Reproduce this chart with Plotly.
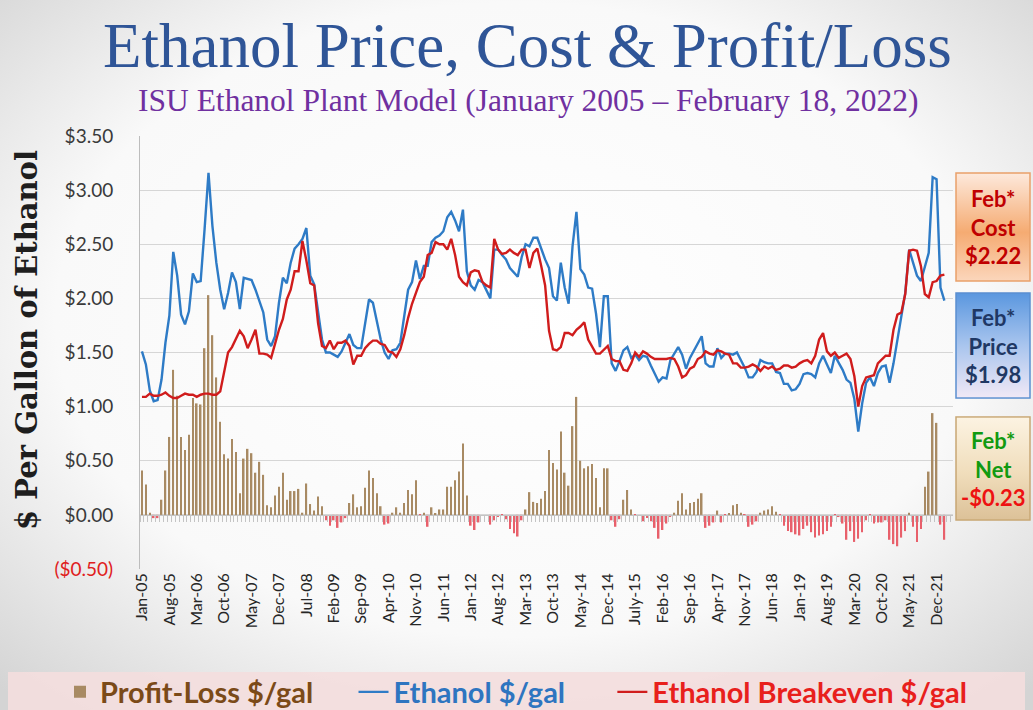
import base64
import plotly.graph_objects as go

# ---------------- data (monthly, Jan-2005 .. Feb-2022) ----------------
month_names = ["Jan", "Feb", "Mar", "Apr", "May", "Jun", "Jul", "Aug", "Sep", "Oct", "Nov", "Dec"]
months = [f"{m}-{y % 100:02d}" for y in range(2005, 2023) for m in month_names][:206]

ethanol_price = [
    1.51, 1.39, 1.15, 1.05, 1.06, 1.25, 1.59, 1.84, 2.43, 2.21, 1.85, 1.76,  # 2005
    1.88, 2.23, 2.15, 2.16, 2.64, 3.16, 2.67, 2.33, 2.08, 1.90, 2.05, 2.24,  # 2006
    2.15, 1.90, 2.19, 2.18, 2.17, 2.08, 1.97, 1.87, 1.62, 1.56, 1.65, 1.96,  # 2007
    2.19, 2.14, 2.33, 2.46, 2.50, 2.55, 2.65, 2.21, 2.13, 1.88, 1.62, 1.50,  # 2008
    1.50, 1.48, 1.46, 1.51, 1.59, 1.67, 1.57, 1.54, 1.54, 1.77, 1.99, 1.96,  # 2009
    1.79, 1.62, 1.50, 1.44, 1.52, 1.53, 1.59, 1.84, 2.08, 2.15, 2.35, 2.18,  # 2010
    2.30, 2.30, 2.52, 2.56, 2.58, 2.62, 2.75, 2.80, 2.72, 2.62, 2.82, 2.25,  # 2011
    2.12, 2.08, 2.17, 2.15, 2.08, 2.00, 2.45, 2.45, 2.40, 2.36, 2.28, 2.24,  # 2012
    2.20, 2.38, 2.50, 2.48, 2.56, 2.56, 2.45, 2.36, 2.28, 2.02, 1.98, 2.33,  # 2013
    2.10, 1.95, 2.48, 2.80, 2.27, 2.22, 2.10, 2.09, 1.86, 1.55, 2.02, 2.02,  # 2014
    1.40, 1.33, 1.42, 1.52, 1.55, 1.45, 1.48, 1.43, 1.47, 1.46, 1.38, 1.30,  # 2015
    1.23, 1.27, 1.26, 1.43, 1.49, 1.55, 1.48, 1.35, 1.45, 1.52, 1.58, 1.65,  # 2016
    1.40, 1.37, 1.37, 1.54, 1.45, 1.49, 1.49, 1.48, 1.50, 1.43, 1.36, 1.27,  # 2017
    1.27, 1.32, 1.43, 1.41, 1.40, 1.40, 1.32, 1.31, 1.21, 1.21, 1.15, 1.16,  # 2018
    1.21, 1.30, 1.31, 1.30, 1.27, 1.40, 1.47, 1.39, 1.31, 1.47, 1.40, 1.34,  # 2019
    1.25, 1.22, 1.07, 0.77, 1.03, 1.22, 1.27, 1.19, 1.31, 1.37, 1.38, 1.22,  # 2020
    1.40, 1.62, 1.84, 2.05, 2.45, 2.33, 2.21, 2.16, 2.28, 2.42, 3.12, 3.10,  # 2021
    2.10, 1.98,                                                              # 2022
]

breakeven_cost = [
    1.09, 1.09, 1.12, 1.10, 1.10, 1.11, 1.13, 1.10, 1.08, 1.08, 1.10, 1.12,  # 2005
    1.11, 1.11, 1.09, 1.11, 1.12, 1.12, 1.11, 1.11, 1.14, 1.33, 1.50, 1.55,  # 2006
    1.62, 1.70, 1.65, 1.54, 1.62, 1.71, 1.49, 1.49, 1.48, 1.45, 1.58, 1.71,  # 2007
    1.81, 1.99, 2.08, 2.25, 2.25, 2.53, 2.35, 2.14, 2.12, 1.77, 1.56, 1.54,  # 2008
    1.61, 1.53, 1.59, 1.59, 1.61, 1.56, 1.39, 1.47, 1.47, 1.54, 1.58, 1.61,  # 2009
    1.61, 1.58, 1.57, 1.51, 1.50, 1.46, 1.53, 1.66, 1.82, 1.95, 2.05, 2.15,  # 2010
    2.20, 2.40, 2.42, 2.52, 2.50, 2.50, 2.45, 2.55, 2.40, 2.20, 2.15, 2.12,  # 2011
    2.24, 2.26, 2.25, 2.15, 2.12, 2.10, 2.55, 2.45, 2.41, 2.42, 2.45, 2.42,  # 2012
    2.40, 2.45, 2.45, 2.28, 2.42, 2.46, 2.30, 2.12, 1.70, 1.53, 1.52, 1.55,  # 2013
    1.68, 1.68, 1.66, 1.71, 1.74, 1.78, 1.62, 1.55, 1.49, 1.49, 1.53, 1.56,  # 2014
    1.44, 1.42, 1.42, 1.34, 1.33, 1.40, 1.50, 1.46, 1.51, 1.49, 1.46, 1.44,  # 2015
    1.44, 1.44, 1.44, 1.45, 1.44, 1.37, 1.27, 1.29, 1.35, 1.37, 1.44, 1.46,  # 2016
    1.51, 1.49, 1.48, 1.52, 1.51, 1.49, 1.48, 1.40, 1.40, 1.36, 1.36, 1.37,  # 2017
    1.39, 1.37, 1.33, 1.37, 1.35, 1.37, 1.34, 1.35, 1.38, 1.38, 1.36, 1.37,  # 2018
    1.40, 1.42, 1.43, 1.40, 1.47, 1.62, 1.68, 1.51, 1.47, 1.50, 1.45, 1.47,  # 2019
    1.49, 1.44, 1.28, 1.00, 1.19, 1.27, 1.28, 1.29, 1.40, 1.44, 1.47, 1.47,  # 2020
    1.71, 1.85, 1.87, 2.04, 2.44, 2.45, 2.44, 2.30, 2.04, 2.01, 2.15, 2.16,  # 2021
    2.21, 2.22,                                                              # 2022
]

profit_loss = [
    0.41, 0.28, 0.02, -0.03, -0.03, 0.14, 0.41, 0.72, 1.34, 1.10, 0.72, 0.60,     # 2005
    0.74, 1.08, 1.03, 1.02, 1.54, 2.03, 1.66, 1.27, 0.86, 0.56, 0.52, 0.70,       # 2006
    0.58, 0.20, 0.52, 0.61, 0.57, 0.39, 0.49, 0.37, 0.09, 0.07, 0.18, 0.26,       # 2007
    0.39, 0.14, 0.22, 0.22, 0.24, 0.02, 0.29, 0.10, 0.04, 0.17, 0.08, -0.05,      # 2008
    -0.10, -0.05, -0.12, -0.07, -0.03, 0.11, 0.19, 0.07, 0.08, 0.25, 0.41, 0.34,  # 2009
    0.20, 0.08, -0.09, -0.08, 0.02, 0.07, 0.02, 0.11, 0.23, 0.19, 0.32, -0.01,    # 2010
    0.02, -0.11, 0.07, 0.01, 0.05, 0.05, 0.26, 0.26, 0.32, 0.40, 0.66, 0.18,      # 2011
    -0.10, -0.14, -0.07, 0.00, 0.00, -0.09, -0.05, -0.02, -0.01, -0.04, -0.13, -0.17,  # 2012
    -0.20, -0.05, 0.05, 0.21, 0.12, 0.11, 0.15, 0.22, 0.60, 0.48, 0.42, 0.77,     # 2013
    0.39, 0.27, 0.82, 1.09, 0.50, 0.43, 0.45, 0.47, 0.34, 0.07, 0.43, 0.43,       # 2014
    -0.05, -0.11, -0.04, 0.14, 0.23, 0.05, -0.01, 0.00, -0.06, -0.03, -0.06, -0.12,  # 2015
    -0.22, -0.14, -0.08, -0.02, 0.02, 0.13, 0.20, 0.05, 0.11, 0.12, 0.15, 0.20,   # 2016
    -0.12, -0.10, -0.07, 0.04, -0.07, -0.01, 0.01, 0.09, 0.10, 0.02, -0.01, -0.11,  # 2017
    -0.09, -0.06, 0.02, 0.04, 0.05, 0.08, 0.03, -0.01, -0.10, -0.15, -0.16, -0.18,  # 2018
    -0.19, -0.13, -0.10, -0.16, -0.21, -0.19, -0.18, -0.15, -0.11, -0.01, -0.02, -0.08,  # 2019
    -0.23, -0.15, -0.25, -0.22, -0.16, -0.05, -0.01, -0.08, -0.07, -0.07, -0.05, -0.23,  # 2020
    -0.27, -0.29, -0.21, -0.15, 0.02, -0.11, -0.25, -0.13, 0.26, 0.40, 0.94, 0.85,  # 2021
    -0.09, -0.23,                                                                  # 2022
]

tick_labels = ["Jan-05", "Aug-05", "Mar-06", "Oct-06", "May-07", "Dec-07", "Jul-08", "Feb-09",
               "Sep-09", "Apr-10", "Nov-10", "Jun-11", "Jan-12", "Aug-12", "Mar-13", "Oct-13",
               "May-14", "Dec-14", "July-15", "Feb-16", "Sep-16", "Apr-17", "Nov-17", "Jun-18",
               "Jan-19", "Aug-19", "Mar-20", "Oct-20", "May-21", "Dec-21"]
y_ticks = [-0.5, 0.0, 0.5, 1.0, 1.5, 2.0, 2.5, 3.0, 3.5]
y_tick_text = ["<span style='color:#e02020'>($0.50)</span>", "$0.00", "$0.50", "$1.00", "$1.50",
               "$2.00", "$2.50", "$3.00", "$3.50"]

feb_cost, feb_price, feb_net = "$2.22", "$1.98", "-$0.23"

# ---------------- geometry helpers ----------------
W, H = 1033, 710
L, R, T, B = 140, 80, 136, 141
PW, PH = W - L - R, H - T - B


def px(xp):
    return (xp - L) / PW


def py(yp):
    return (H - B - yp) / PH


def svg_uri(svg):
    return "data:image/svg+xml;base64," + base64.b64encode(svg.encode()).decode()


bg_svg = (
    "<svg xmlns='http://www.w3.org/2000/svg' width='1033' height='710'>"
    "<defs><radialGradient id='g' cx='50%' cy='45%' r='72%'>"
    "<stop offset='0' stop-color='#ffffff'/><stop offset='0.62' stop-color='#f9f9f9'/>"
    "<stop offset='1' stop-color='#d4d4d4'/></radialGradient></defs>"
    "<rect width='1033' height='710' fill='url(#g)'/>"
    "<rect x='8' y='672' width='1017' height='38' fill='#f4dede' opacity='0.9'/>"
    "</svg>"
)


def box_svg(stops, stroke):
    st = "".join(f"<stop offset='{o}' stop-color='{c}'/>" for o, c in stops)
    return ("<svg xmlns='http://www.w3.org/2000/svg' width='76' height='110'>"
            f"<defs><linearGradient id='g' x1='0' y1='0' x2='0' y2='1'>{st}</linearGradient></defs>"
            f"<rect x='1' y='1' width='74' height='108' fill='url(#g)' stroke='{stroke}' stroke-width='1.5'/>"
            "</svg>")


boxes = [
    (955, 172, 76, 110, box_svg([(0, "#fde9dc"), (0.55, "#f5ab72"), (1, "#fbd6bb")], "#e9a06a")),
    (955, 292, 76, 107, box_svg([(0, "#5a97df"), (0.5, "#a9c5ee"), (1, "#f1e9f6")], "#5b8fd0")),
    (955, 416, 76, 105, box_svg([(0, "#fcf3e2"), (0.55, "#f0ddbb"), (1, "#dcc198")], "#c8a774")),
]

bar_colors = ["#a88a63" if v >= 0 else "#e8606b" for v in profit_loss]
NB = "&nbsp;"

fig = go.Figure()
fig.add_trace(go.Bar(
    x=months, y=profit_loss,
    name="<span style='color:#7b4a18'>Profit-Loss $/gal</span>" + NB * 5,
    marker=dict(color=bar_colors, line=dict(width=0)),
))
fig.add_trace(go.Scatter(
    x=months, y=ethanol_price, mode="lines",
    name="<span style='color:#2e75c0'>Ethanol $/gal</span>" + NB * 6,
    line=dict(color="#2e7bc6", width=2.4),
))
fig.add_trace(go.Scatter(
    x=months, y=breakeven_cost, mode="lines",
    name="<span style='color:#e8201c'>Ethanol Breakeven $/gal</span>",
    line=dict(color="#d01c1c", width=2.4),
))
# helper trace so the zero-line tick axis is drawn
fig.add_trace(go.Scatter(x=[0], y=[0], xaxis="x2", mode="markers", marker=dict(opacity=0),
                         showlegend=False, hoverinfo="skip"))

images = [dict(source=svg_uri(bg_svg), xref="paper", yref="paper", x=px(0), y=py(0),
               sizex=W / PW, sizey=H / PH, sizing="stretch", xanchor="left", yanchor="top",
               layer="below")]
for bx, by, bw, bh, s in boxes:
    images.append(dict(source=svg_uri(s), xref="paper", yref="paper", x=px(bx), y=py(by),
                       sizex=bw / PW, sizey=bh / PH, sizing="stretch", xanchor="left",
                       yanchor="top", layer="below"))

box_font = dict(family="Lato", size=22)


def ann(text, xp, yp, font, **kw):
    return dict(text=text, x=px(xp), y=py(yp), xref="paper", yref="paper", showarrow=False,
                xanchor="center", yanchor="middle", font=font, **kw)


annotations = [
    ann("Ethanol Price, Cost &amp; Profit/Loss", 527, 46,
        dict(family="Liberation Serif", size=63, color="#2f5597")),
    ann("ISU Ethanol Plant Model (January 2005 – February 18, 2022)", 528, 100,
        dict(family="Liberation Serif", size=31.5, color="#7030a0")),
    ann("<b>$ Per Gallon of Ethanol</b>", 27, 340,
        dict(family="DejaVu Serif", size=29, color="#1e1e1e"), textangle=-90),
    ann(f"<b>Feb*<br>Cost<br>{feb_cost}</b>", 993, 227, dict(color="#c00000", **box_font)),
    ann(f"<b>Feb*<br>Price<br>{feb_price}</b>", 993, 346, dict(color="#1f3864", **box_font)),
    ann(("<b><span style='color:#119a11'>Feb*</span><br><span style='color:#119a11'>Net</span>"
         f"<br><span style='color:#ee1111'>{feb_net}</span></b>"), 993, 469, box_font),
]

fig.update_layout(
    width=W, height=H,
    margin=dict(l=L, r=R, t=T, b=B, pad=0, autoexpand=False),
    paper_bgcolor="#efefef", plot_bgcolor="rgba(0,0,0,0)",
    bargap=0.6,
    images=images,
    annotations=annotations,
    showlegend=True,
    legend=dict(orientation="h", x=px(60), xanchor="left", y=py(692), yanchor="middle",
                font=dict(family="Lato", size=29, weight="bold"), bgcolor="rgba(0,0,0,0)",
                itemwidth=30, traceorder="normal"),
    xaxis=dict(type="category", range=[-0.5, 207.2], tickmode="array",
               tickvals=months[::7], ticktext=tick_labels, tickangle=-90,
               tickfont=dict(family="Lato", size=16, color="#262626"),
               showgrid=False, showline=False, zeroline=False, ticks=""),
    xaxis2=dict(overlaying="x", anchor="free", position=py(515), range=[-0.5, 207.2],
                tickmode="linear", tick0=-0.5, dtick=1, ticks="outside", ticklen=6,
                tickcolor="#c4c4c4", showticklabels=False, showline=True, linecolor="#c4c4c4",
                linewidth=1, showgrid=False, zeroline=False, fixedrange=True),
    yaxis=dict(range=[-0.5, 3.5], tickmode="array", tickvals=y_ticks, ticktext=y_tick_text,
               tickfont=dict(family="Lato", size=19, color="#3a3a3a"), ticklabelstandoff=22,
               showgrid=True, gridcolor="#d6d6d6", gridwidth=1.2, zeroline=False,
               showline=True, linecolor="#bdbdbd", linewidth=1),
)

fig.write_html("out.html", config={"displayModeBar": False},
               post_script="document.body.style.margin='0';")
